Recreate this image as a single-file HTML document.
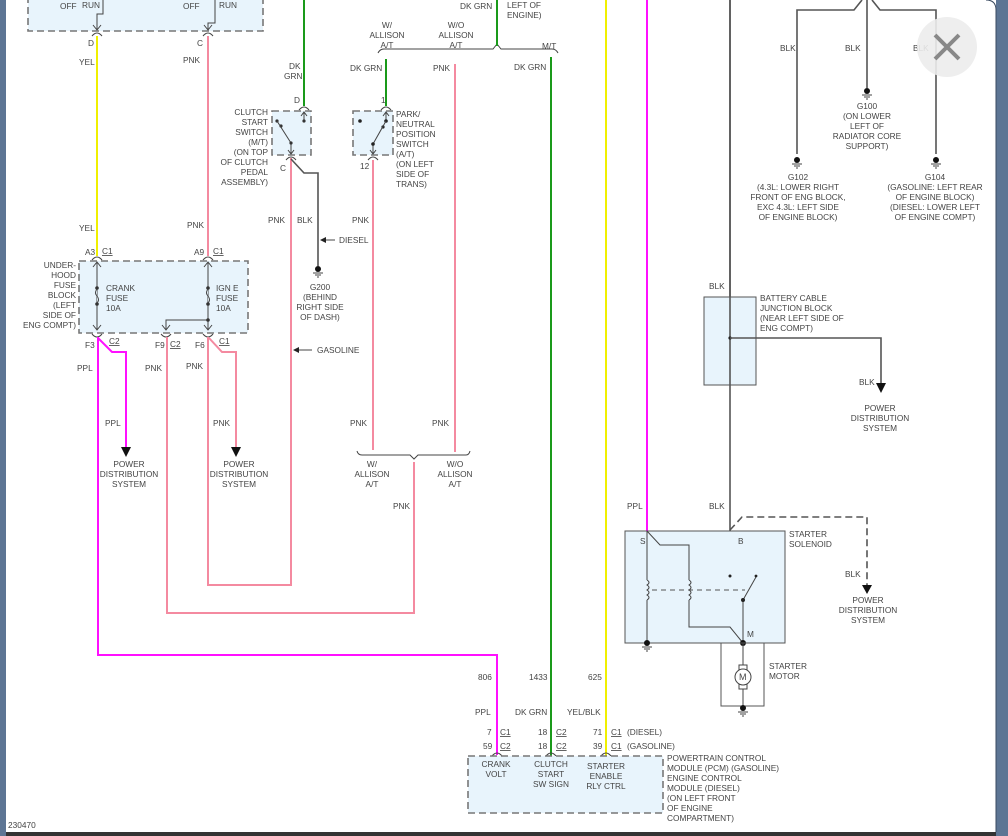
<!DOCTYPE html>
<html><head><meta charset="utf-8"><style>
html,body{margin:0;padding:0;width:1008px;height:836px;overflow:hidden;background:#fff}
svg{display:block}
text{font-family:"Liberation Sans",sans-serif;font-size:8.3px;fill:#444}
.w{fill:none;stroke-width:2}
.k{fill:none;stroke:#555;stroke-width:1.6}
.t{fill:none;stroke:#444;stroke-width:1}
.box{fill:#e8f4fc;stroke:#777;stroke-width:1.6;stroke-dasharray:7,4}
</style></head><body>
<svg width="1008" height="836" viewBox="0 0 1008 836">
<defs>
<marker id="ar" markerWidth="10" markerHeight="10" refX="5" refY="5" orient="auto" markerUnits="userSpaceOnUse"><path d="M0,0 L10,5 L0,10 z" fill="#111"/></marker>
</defs>
<!-- frame -->
<rect x="0" y="0" width="1008" height="836" fill="#5d7594"/>
<rect x="6" y="0" width="990" height="832" fill="#fff"/>
<rect x="6" y="832" width="990" height="4" fill="#333"/>
<path d="M986,0 Q996,0 996,10 L996,832" fill="none" stroke="#3a4a60" stroke-width="1"/>

<!-- top ignition box -->
<rect class="box" x="28" y="-10" width="235" height="41"/>
<text x="60" y="9">OFF</text><text x="82" y="8">RUN</text>
<text x="183" y="9">OFF</text><text x="219" y="8">RUN</text>
<path class="t" d="M103,0 V14 H97 V30"/><path class="t" d="M93,25 L97,30 L101,25"/>
<path class="t" d="M215,0 V23 H208 V30"/><path class="t" d="M204,25 L208,30 L212,25"/>
<path class="t" d="M92,36 Q97,30 102,36 M203,36 Q208,30 213,36"/>
<text x="88" y="46">D</text><text x="197" y="46">C</text>
<!-- YEL and PNK wires -->
<path class="w" stroke="#f0f000" d="M97,36 V256"/>
<path class="w" stroke="#f48aa0" d="M208,36 V256"/>
<text x="79" y="65">YEL</text><text x="183" y="63">PNK</text>
<text x="79" y="231">YEL</text><text x="187" y="228">PNK</text>

<!-- underhood fuse block -->
<rect class="box" x="79" y="261" width="169" height="72"/>
<path class="t" d="M92,260 Q97,254 102,260 M203,260 Q208,254 213,260"/>
<text x="85" y="255">A3</text><text x="102" y="254" text-decoration="underline">C1</text>
<text x="194" y="255">A9</text><text x="213" y="254" text-decoration="underline">C1</text>
<path class="t" d="M97,262 V330 M93,267 L97,262 L101,267 M93,325 L97,330 L101,325"/>
<path class="t" d="M208,262 V330 M204,267 L208,262 L212,267 M204,325 L208,330 L212,325"/>
<path class="t" d="M208,320 H166 V330 M162,325 L166,330 L170,325"/>
<circle cx="97" cy="288" r="1.8" fill="#333"/><circle cx="97" cy="304" r="1.8" fill="#333"/>
<circle cx="208" cy="288" r="1.8" fill="#333"/><circle cx="208" cy="304" r="1.8" fill="#333"/><circle cx="208" cy="320" r="1.8" fill="#333"/>
<path d="M97,289 q-3,4 0,7 q3,4 0,7" fill="#e8f4fc" stroke="#444" stroke-width="1"/>
<path d="M208,289 q-3,4 0,7 q3,4 0,7" fill="#e8f4fc" stroke="#444" stroke-width="1"/>
<text x="106" y="291">CRANK</text><text x="106" y="301">FUSE</text><text x="106" y="311">10A</text>
<text x="216" y="291">IGN E</text><text x="216" y="301">FUSE</text><text x="216" y="311">10A</text>
<g text-anchor="end"><text x="76" y="268">UNDER-</text><text x="76" y="278">HOOD</text><text x="76" y="288">FUSE</text><text x="76" y="298">BLOCK</text><text x="76" y="308">(LEFT</text><text x="76" y="318">SIDE OF</text><text x="76" y="328">ENG COMPT)</text></g>
<path class="t" d="M92,334 Q97,340 102,334 M161,334 Q166,340 171,334 M203,334 Q208,340 213,334"/>
<text x="85" y="348">F3</text><text x="109" y="344" text-decoration="underline">C2</text>
<text x="155" y="348">F9</text><text x="170" y="347" text-decoration="underline">C2</text>
<text x="195" y="348">F6</text><text x="219" y="344" text-decoration="underline">C1</text>

<!-- PPL -->
<path class="w" stroke="#ff10ff" d="M98,337 V655 H497 V755"/>
<path class="w" stroke="#ff10ff" d="M98,338 L112,352 H126 V452" marker-end="url(#ar)"/>
<text x="77" y="371">PPL</text><text x="105" y="426">PPL</text>
<g text-anchor="middle"><text x="129" y="467">POWER</text><text x="129" y="477">DISTRIBUTION</text><text x="129" y="487">SYSTEM</text></g>
<!-- PNK F9 -->
<path class="w" stroke="#f48aa0" d="M167,337 V613 H414 V462"/>
<text x="145" y="371">PNK</text>
<!-- PNK F6 -->
<path class="w" stroke="#f48aa0" d="M208,337 V585 H291 V158"/>
<path class="w" stroke="#f48aa0" d="M209,338 L222,352 H236 V452" marker-end="url(#ar)"/>
<text x="186" y="369">PNK</text><text x="213" y="426">PNK</text>
<g text-anchor="middle"><text x="239" y="467">POWER</text><text x="239" y="477">DISTRIBUTION</text><text x="239" y="487">SYSTEM</text></g>

<!-- clutch start switch -->
<path class="w" stroke="#1a9a1a" d="M304,0 V106"/>
<text x="289" y="69">DK</text><text x="284" y="79">GRN</text>
<text x="294" y="103">D</text>
<path class="t" d="M299,110 Q304,104 309,110"/>
<rect class="box" x="272" y="111" width="39" height="44"/>
<path class="t" d="M304,112 V121 M301,116 L304,112 L307,116"/>
<circle cx="304" cy="121" r="1.6" fill="#333"/>
<circle cx="277" cy="121" r="1.6" fill="#333"/><circle cx="281" cy="126" r="1.6" fill="#333"/>
<path class="t" d="M277,121 L291,143 V154 M288,150 L291,154 L294,150"/><circle cx="291" cy="143" r="1.6" fill="#333"/>
<path class="t" d="M286,160 Q291,154 296,160"/>
<g text-anchor="end"><text x="268" y="115">CLUTCH</text><text x="268" y="125">START</text><text x="268" y="135">SWITCH</text><text x="268" y="145">(M/T)</text><text x="268" y="155">(ON TOP</text><text x="268" y="165">OF CLUTCH</text><text x="268" y="175">PEDAL</text><text x="268" y="185">ASSEMBLY)</text></g>
<text x="280" y="171">C</text>
<path class="k" d="M291,159 L304,173 H318 V266"/>
<text x="268" y="223">PNK</text><text x="297" y="223">BLK</text>
<path class="t" d="M335,240 H322"/><path d="M320,240 L326,237 V243 z" fill="#222"/>
<text x="339" y="243">DIESEL</text>
<circle cx="318" cy="269" r="3" fill="#111"/><path class="t" d="M313,273 H323 M315,275 H321 M317,277 H319"/>
<g text-anchor="middle"><text x="320" y="290">G200</text><text x="320" y="300">(BEHIND</text><text x="320" y="310">RIGHT SIDE</text><text x="320" y="320">OF DASH)</text></g>
<path class="t" d="M312,350 H296"/><path d="M293,350 L299,347 V353 z" fill="#222"/>
<text x="317" y="353">GASOLINE</text>

<!-- top bracket -->
<path class="t" d="M378,53 Q380,49 384,49 H493 L497,44 L501,49 H552 Q556,49 558,53"/>
<g text-anchor="middle"><text x="387" y="28">W/</text><text x="387" y="38">ALLISON</text><text x="387" y="48">A/T</text>
<text x="456" y="28">W/O</text><text x="456" y="38">ALLISON</text><text x="456" y="48">A/T</text></g>
<text x="542" y="49">M/T</text>
<path class="w" stroke="#1a9a1a" d="M497,0 V46"/>
<text x="460" y="9">DK GRN</text><text x="507" y="8">LEFT OF</text><text x="507" y="18">ENGINE)</text>
<path class="w" stroke="#1a9a1a" d="M386,59 V106"/><text x="350" y="71">DK GRN</text>
<path class="w" stroke="#f48aa0" d="M455,64 V452"/><text x="433" y="71">PNK</text>
<path class="w" stroke="#1a9a1a" d="M551,57 V756"/><text x="514" y="70">DK GRN</text>

<!-- PNP switch -->
<text x="381" y="103">1</text>
<path class="t" d="M381,110 Q386,104 391,110"/>
<rect class="box" x="353" y="111" width="40" height="44"/>
<circle cx="360" cy="121" r="1.8" fill="#222"/>
<path class="t" d="M386,112 V121 M383,116 L386,112 L389,116"/>
<circle cx="386" cy="121" r="1.8" fill="#222"/><circle cx="383" cy="127" r="1.6" fill="#222"/>
<path class="t" d="M386,121 L373,144 V154 M370,150 L373,154 L376,150"/><circle cx="373" cy="144" r="1.8" fill="#222"/>
<path class="t" d="M368,160 Q373,154 378,160"/>
<text x="360" y="169">12</text>
<text x="396" y="117">PARK/</text><text x="396" y="127">NEUTRAL</text><text x="396" y="137">POSITION</text><text x="396" y="147">SWITCH</text><text x="396" y="157">(A/T)</text><text x="396" y="167">(ON LEFT</text><text x="396" y="177">SIDE OF</text><text x="396" y="187">TRANS)</text>
<path class="w" stroke="#f48aa0" d="M373,160 V450"/>
<text x="352" y="223">PNK</text>
<text x="350" y="426">PNK</text><text x="432" y="426">PNK</text>
<!-- bottom bracket -->
<path class="t" d="M357,451 Q358,455 362,455 H410 L414,459 L418,455 H466 Q469,455 470,451"/>
<g text-anchor="middle"><text x="372" y="467">W/</text><text x="372" y="477">ALLISON</text><text x="372" y="487">A/T</text>
<text x="455" y="467">W/O</text><text x="455" y="477">ALLISON</text><text x="455" y="487">A/T</text></g>
<text x="393" y="509">PNK</text>

<!-- YEL and magenta right -->
<path class="w" stroke="#f0f000" d="M606,0 V756"/>
<path class="w" stroke="#ff10ff" d="M647,0 V532"/>
<text x="627" y="509">PPL</text>

<!-- right BLK -->
<path class="k" d="M730,0 V576"/>
<text x="709" y="289">BLK</text>
<rect x="704" y="297" width="52" height="88" fill="#e8f4fc" stroke="#555" stroke-width="1"/>
<path class="k" d="M730,0 V385"/>
<circle cx="730" cy="338" r="1.6" fill="#222"/>
<path class="k" d="M730,338 H881 V388" marker-end="url(#ar)"/>
<text x="760" y="301">BATTERY CABLE</text><text x="760" y="311">JUNCTION BLOCK</text><text x="760" y="321">(NEAR LEFT SIDE OF</text><text x="760" y="331">ENG COMPT)</text>
<text x="859" y="385">BLK</text>
<g text-anchor="middle"><text x="880" y="411">POWER</text><text x="880" y="421">DISTRIBUTION</text><text x="880" y="431">SYSTEM</text></g>
<text x="709" y="509">BLK</text>

<!-- grounds top right -->
<path class="k" d="M797,154 V10 H854 L862,0"/>
<path class="k" d="M867,0 V88"/>
<path class="k" d="M936,154 V10 H880 L872,0"/>
<text x="780" y="51">BLK</text><text x="845" y="51">BLK</text><text x="913" y="51">BLK</text>
<g fill="#111"><circle cx="867" cy="91" r="3"/><circle cx="797" cy="160" r="3"/><circle cx="936" cy="160" r="3"/></g>
<path class="t" d="M862,95 H872 M864,97 H870 M866,99 H868 M792,164 H802 M794,166 H800 M796,168 H798 M931,164 H941 M933,166 H939 M935,168 H937"/>
<g text-anchor="middle"><text x="867" y="109">G100</text><text x="867" y="119">(ON LOWER</text><text x="867" y="129">LEFT OF</text><text x="867" y="139">RADIATOR CORE</text><text x="867" y="149">SUPPORT)</text>
<text x="798" y="180">G102</text><text x="798" y="190">(4.3L: LOWER RIGHT</text><text x="798" y="200">FRONT OF ENG BLOCK,</text><text x="798" y="210">EXC 4.3L: LEFT SIDE</text><text x="798" y="220">OF ENGINE BLOCK)</text>
<text x="935" y="180">G104</text><text x="935" y="190">(GASOLINE: LEFT REAR</text><text x="935" y="200">OF ENGINE BLOCK)</text><text x="935" y="210">(DIESEL: LOWER LEFT</text><text x="935" y="220">OF ENGINE COMPT)</text></g>

<!-- close button -->
<circle cx="947" cy="47" r="30" fill="#ececec" opacity="0.9"/>
<path d="M935,35 L959,59 M959,35 L935,59" stroke="#888" stroke-width="4"/>

<!-- starter solenoid -->
<rect x="625" y="531" width="160" height="112" fill="#e8f4fc" stroke="#555" stroke-width="1"/>
<path class="k" d="M730,530 L742,517 H867 V588" stroke-dasharray="7,4"/>
<path d="M862,585 L872,585 L867,594 z" fill="#111"/>
<text x="845" y="577">BLK</text>
<g text-anchor="middle"><text x="868" y="603">POWER</text><text x="868" y="613">DISTRIBUTION</text><text x="868" y="623">SYSTEM</text></g>
<text x="789" y="537">STARTER</text><text x="789" y="547">SOLENOID</text>
<text x="640" y="544">S</text><text x="738" y="544">B</text><text x="747" y="637">M</text>
<path class="t" d="M647,531 V580 M647,600 V643"/>
<path d="M647,580 q4,2.5 0,5 q4,2.5 0,5 q4,2.5 0,5 q4,2.5 0,5" fill="none" stroke="#444" stroke-width="1"/>
<path class="t" d="M647,531 L660,545 H689 V580 M689,600 V627 H730 L743,643"/>
<path d="M689,580 q4,2.5 0,5 q4,2.5 0,5 q4,2.5 0,5 q4,2.5 0,5" fill="none" stroke="#444" stroke-width="1"/>
<path d="M652,590 H745" stroke="#555" stroke-width="1" stroke-dasharray="5,4"/>
<circle cx="730" cy="576" r="1.5" fill="#222"/>
<path class="t" d="M743,600 L756,577 M743,600 V643"/><circle cx="743" cy="600" r="2" fill="#222"/><circle cx="756" cy="576" r="1.4" fill="#222"/>
<circle cx="647" cy="643" r="3" fill="#111"/><path class="t" d="M642,647 H652 M644,649 H650 M646,651 H648"/>
<circle cx="743" cy="643" r="3" fill="#111"/>
<rect x="721" y="643" width="43" height="63" fill="none" stroke="#555" stroke-width="1"/>
<path class="t" d="M743,643 V706"/>
<rect x="739" y="665" width="8" height="24" fill="#fff" stroke="#444" stroke-width="1"/>
<circle cx="743" cy="677" r="8" fill="#fff" stroke="#444" stroke-width="1"/>
<text x="739" y="680" style="font-size:9px">M</text>
<circle cx="743" cy="708" r="3" fill="#111"/><path class="t" d="M738,712 H748 M740,714 H746 M742,716 H744"/>
<text x="769" y="669">STARTER</text><text x="769" y="679">MOTOR</text>

<!-- PCM -->
<text x="478" y="680">806</text><text x="529" y="680">1433</text><text x="588" y="680">625</text>
<text x="475" y="715">PPL</text><text x="515" y="715">DK GRN</text><text x="567" y="715">YEL/BLK</text>
<text x="487" y="735">7</text><text x="500" y="735" text-decoration="underline">C1</text>
<text x="538" y="735">18</text><text x="556" y="735" text-decoration="underline">C2</text>
<text x="593" y="735">71</text><text x="611" y="735" text-decoration="underline">C1</text><text x="627" y="735">(DIESEL)</text>
<text x="483" y="749">59</text><text x="500" y="749" text-decoration="underline">C2</text>
<text x="538" y="749">18</text><text x="556" y="749" text-decoration="underline">C2</text>
<text x="593" y="749">39</text><text x="611" y="749" text-decoration="underline">C1</text><text x="627" y="749">(GASOLINE)</text>
<path class="t" d="M492,756 Q497,750 502,756 M546,756 Q551,750 556,756 M601,756 Q606,750 611,756"/>
<rect class="box" x="468" y="756" width="195" height="57"/>
<g text-anchor="middle"><text x="496" y="767">CRANK</text><text x="496" y="777">VOLT</text>
<text x="551" y="767">CLUTCH</text><text x="551" y="777">START</text><text x="551" y="787">SW SIGN</text>
<text x="606" y="769">STARTER</text><text x="606" y="779">ENABLE</text><text x="606" y="789">RLY CTRL</text></g>
<text x="667" y="761">POWERTRAIN CONTROL</text><text x="667" y="771">MODULE (PCM) (GASOLINE)</text><text x="667" y="781">ENGINE CONTROL</text><text x="667" y="791">MODULE (DIESEL)</text><text x="667" y="801">(ON LEFT FRONT</text><text x="667" y="811">OF ENGINE</text><text x="667" y="821">COMPARTMENT)</text>
<text x="8" y="828">230470</text>
</svg>
</body></html>
